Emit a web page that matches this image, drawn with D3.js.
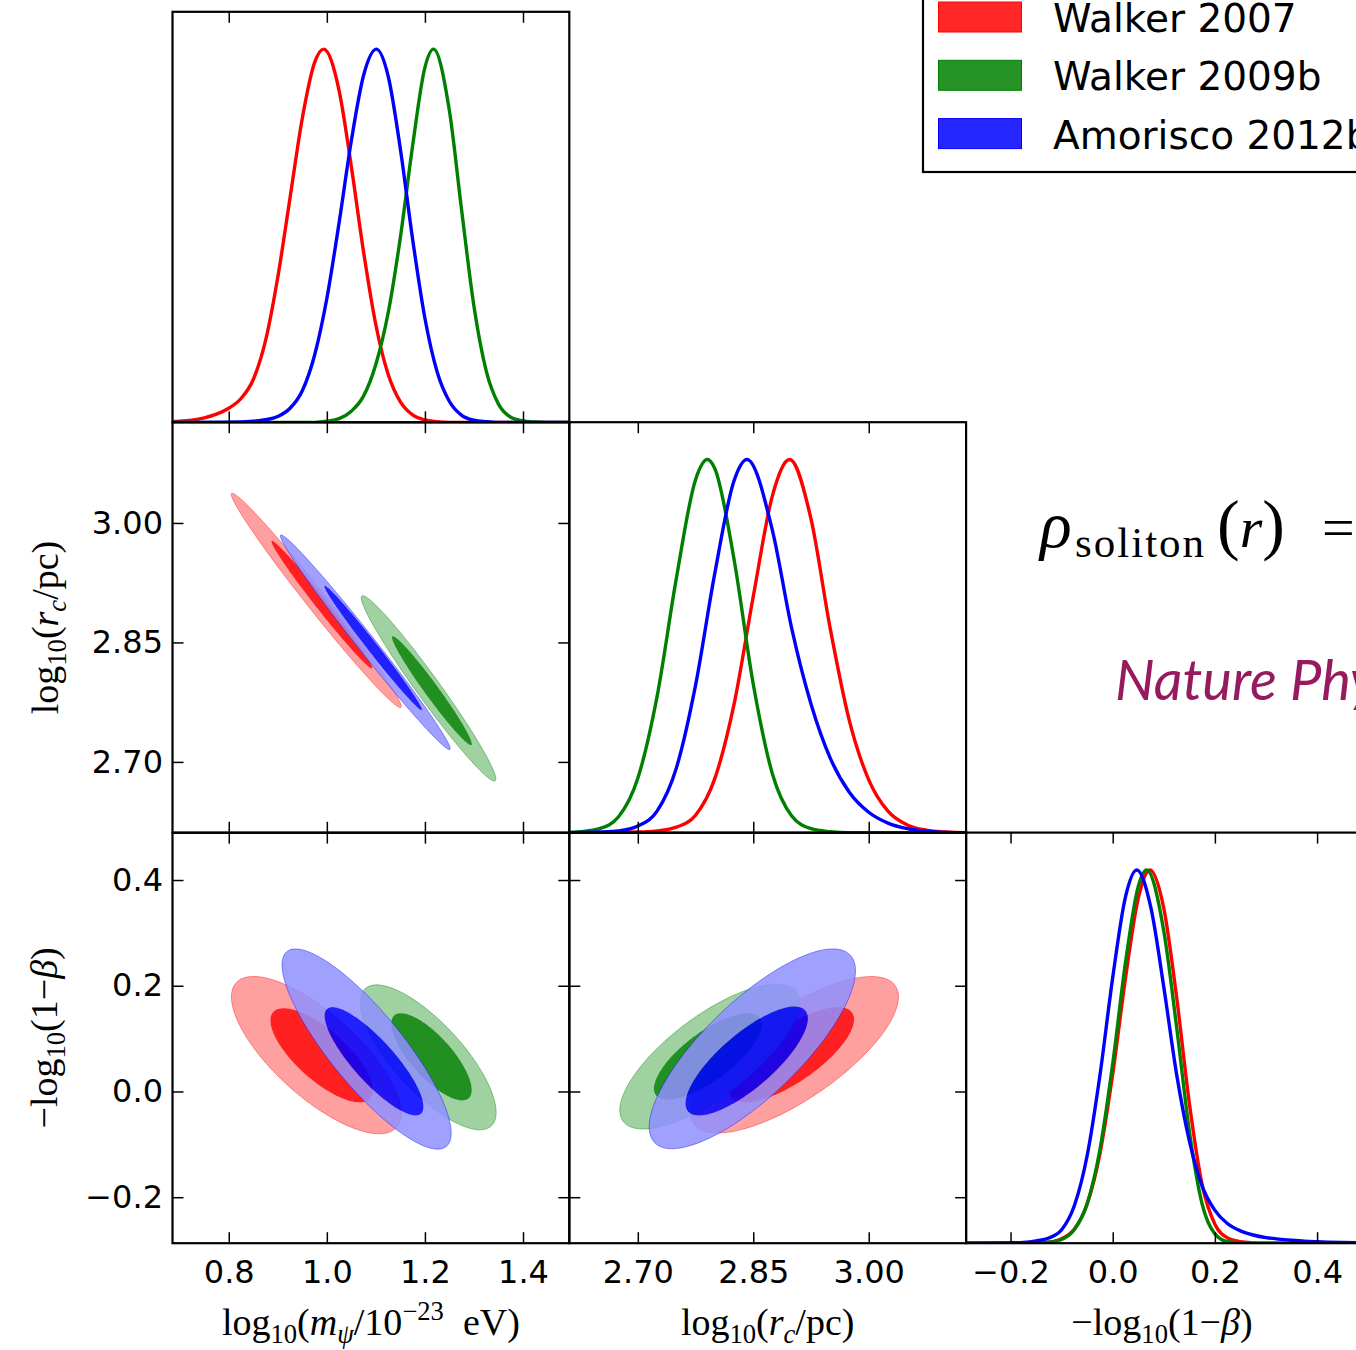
<!DOCTYPE html>
<html><head><meta charset="utf-8">
<script src="https://cdn.jsdelivr.net/npm/d3@7"></script>
<style>body{margin:0;background:#fff;} svg{display:block;}</style>
</head><body>
<svg id="chart" width="1356" height="1350"></svg>
<script>
// ---------------- data ----------------
const seriesNames = ["Walker 2007", "Walker 2009b", "Amorisco 2012b"];
const seriesColors = ["#ff0000", "#008000", "#0000ff"];
const seriesTints = ["#ff8f8f", "#8fc98f", "#8f8fff"];

const mTicks = [0.8, 1.0, 1.2, 1.4];
const rcTicks = [2.70, 2.85, 3.00];
const betaTicks = [-0.2, 0.0, 0.2, 0.4];

const mDomain = [0.6853, 1.4944];
const rcDomain = [2.611, 3.1265];
const betaDomain = [-0.287, 0.4897];

// 1D marginal posteriors, [value, density normalised to peak 1]
const mRed = [[0.68,0.002],[0.70,0.003],[0.725,0.006],[0.75,0.012],[0.775,0.022],[0.80,0.038],[0.825,0.064],[0.85,0.115],[0.875,0.219],[0.90,0.389],[0.925,0.602],[0.95,0.815],[0.975,0.964],[0.9935,1.0],[1.025,0.889],[1.05,0.685],[1.075,0.456],[1.10,0.261],[1.125,0.129],[1.15,0.055],[1.175,0.020],[1.20,0.0064],[1.225,0.002],[1.25,0],[1.50,0]];
const mGreen = [[0.68,0],[0.975,0],[1.0,0.003],[1.025,0.01],[1.05,0.03],[1.075,0.071],[1.10,0.156],[1.125,0.293],[1.15,0.496],[1.175,0.742],[1.20,0.951],[1.2175,1.0],[1.25,0.834],[1.275,0.567],[1.30,0.311],[1.325,0.138],[1.35,0.049],[1.375,0.014],[1.40,0.004],[1.425,0.001],[1.45,0],[1.50,0]];
const mBlue = [[0.68,0],[0.80,0.0005],[0.85,0.003],[0.875,0.007],[0.90,0.016],[0.925,0.038],[0.95,0.085],[0.975,0.180],[1.0,0.332],[1.025,0.535],[1.05,0.755],[1.075,0.930],[1.101,1.0],[1.125,0.928],[1.15,0.732],[1.175,0.490],[1.20,0.279],[1.225,0.135],[1.25,0.056],[1.275,0.019],[1.30,0.006],[1.325,0.002],[1.35,0],[1.50,0]];

const rcRed = [[2.60,0],[2.70,0.002],[2.725,0.005],[2.75,0.015],[2.775,0.047],[2.80,0.145],[2.825,0.344],[2.85,0.633],[2.875,0.904],[2.8973,1.0],[2.925,0.841],[2.95,0.547],[2.975,0.299],[3.0,0.142],[3.025,0.058],[3.05,0.021],[3.075,0.007],[3.10,0.002],[3.13,0]];
const rcGreen = [[2.60,0],[2.625,0.003],[2.65,0.011],[2.675,0.043],[2.70,0.146],[2.725,0.365],[2.75,0.681],[2.775,0.946],[2.7903,1.0],[2.80,0.976],[2.825,0.733],[2.85,0.398],[2.875,0.157],[2.90,0.045],[2.925,0.011],[2.95,0.003],[2.975,0],[3.13,0]];
const rcBlue = [[2.60,0],[2.65,0.002],[2.675,0.005],[2.70,0.018],[2.725,0.058],[2.75,0.173],[2.775,0.395],[2.80,0.695],[2.825,0.943],[2.8418,1.0],[2.875,0.809],[2.90,0.547],[2.925,0.345],[2.95,0.20],[2.975,0.108],[3.0,0.055],[3.025,0.026],[3.05,0.011],[3.075,0.004],[3.10,0.001],[3.13,0]];

const betaRed = [[-0.29,0],[-0.15,0.001],[-0.125,0.003],[-0.10,0.012],[-0.075,0.038],[-0.05,0.105],[-0.025,0.240],[0.0,0.453],[0.025,0.710],[0.05,0.924],[0.073,1.0],[0.10,0.897],[0.125,0.660],[0.15,0.375],[0.175,0.157],[0.20,0.051],[0.225,0.014],[0.25,0.004],[0.275,0.001],[0.30,0],[0.49,0]];
const betaGreen = [[-0.29,0],[-0.15,0.001],[-0.125,0.003],[-0.10,0.010],[-0.075,0.0365],[-0.05,0.106],[-0.025,0.251],[0.0,0.481],[0.025,0.752],[0.05,0.956],[0.0665,1.0],[0.10,0.836],[0.125,0.58],[0.15,0.30],[0.175,0.105],[0.20,0.025],[0.225,0.004],[0.25,0.001],[0.275,0],[0.49,0]];
const betaBlue = [[-0.29,0],[-0.20,0.001],[-0.175,0.002],[-0.15,0.006],[-0.125,0.014],[-0.10,0.036],[-0.075,0.101],[-0.05,0.235],[-0.025,0.450],[0.0,0.712],[0.025,0.928],[0.047,1.0],[0.075,0.897],[0.10,0.686],[0.125,0.453],[0.15,0.274],[0.175,0.153],[0.20,0.088],[0.225,0.052],[0.25,0.033],[0.275,0.022],[0.30,0.015],[0.325,0.011],[0.35,0.008],[0.375,0.0055],[0.40,0.004],[0.45,0.002],[0.49,0.001]];

// 2D credible regions: [series, level (0 = 68%, 1 = 95%), centreX, centreY, halfExtentX, halfExtentY, correlation]
const contMRc = [
  [0,1, 0.9783, 2.9028, 0.1731, 0.1345, -0.989],
  [0,0, 0.9898, 2.8975, 0.1029, 0.0802, -0.989],
  [1,1, 1.2074, 2.7923, 0.1372, 0.1163, -0.977],
  [1,0, 1.2143, 2.7894, 0.0815, 0.0685, -0.977],
  [2,1, 1.0784, 2.8502, 0.1731, 0.1347, -0.991],
  [2,0, 1.0944, 2.8431, 0.0995, 0.0781, -0.991]
];
const contMBeta = [
  [0,1, 0.9786, 0.0688, 0.1731, 0.1488, -0.74],
  [0,0, 0.9894, 0.0684, 0.1045, 0.0892, -0.74],
  [1,1, 1.2067, 0.0646, 0.1385, 0.1371, -0.76],
  [1,0, 1.2134, 0.0656, 0.0821, 0.0826, -0.76],
  [2,1, 1.0811, 0.0803, 0.1725, 0.1894, -0.84],
  [2,0, 1.0963, 0.0571, 0.1008, 0.1025, -0.84]
];
const contRcBeta = [
  [0,1, 2.9036, 0.0694, 0.1350, 0.1480, 0.74],
  [0,0, 2.8997, 0.0694, 0.0813, 0.0902, 0.74],
  [1,1, 2.7933, 0.0660, 0.1167, 0.1370, 0.74],
  [1,0, 2.7909, 0.0662, 0.0700, 0.0819, 0.74],
  [2,1, 2.8488, 0.0807, 0.1340, 0.1890, 0.78],
  [2,0, 2.8414, 0.0577, 0.0794, 0.1030, 0.78]
];

// ---------------- layout ----------------
const svg = d3.select("#chart");
const colX = [172.5, 569.3, 966.1], pw = 396.8;
const rowY = [11.8, 422.2, 832.6], ph = 410.6;
const FONT = "'DejaVu Sans', sans-serif";
const SERIF = "'Liberation Serif', 'Times New Roman', serif";

const xM = d3.scaleLinear(mDomain, [colX[0], colX[0]+pw]);
const xRc = d3.scaleLinear(rcDomain, [colX[1], colX[1]+pw]);
const xBeta = d3.scaleLinear(betaDomain, [colX[2], colX[2]+pw]);
const yRc = d3.scaleLinear(rcDomain, [rowY[1]+ph, rowY[1]]);
const yBeta = d3.scaleLinear(betaDomain, [rowY[2]+ph, rowY[2]]);
const yD = r => d3.scaleLinear([0, 1.1], [rowY[r]+ph, rowY[r]]);

const defs = svg.append("defs");
let clipId = 0;
function panel(c, r) {
  const id = "clip" + (clipId++);
  defs.append("clipPath").attr("id", id).append("rect")
    .attr("x", colX[c]).attr("y", rowY[r]).attr("width", pw).attr("height", ph);
  return svg.append("g").attr("clip-path", `url(#${id})`);
}

function styleAxis(g, labels) {
  g.select(".domain").remove();
  g.selectAll(".tick line").attr("stroke", "#000").attr("stroke-width", 1.5);
  g.selectAll(".tick text").attr("font-family", FONT).attr("font-size", 32).attr("fill", "#000");
  if (!labels) g.selectAll(".tick text").remove();
}

function axes(c, r, xs, xt, xfmt, ys, yt, yfmt, xLab, yLab) {
  const L = colX[c], R = colX[c]+pw, T = rowY[r], B = rowY[r]+ph;
  const gb = svg.append("g").attr("transform", `translate(0,${B})`)
    .call(d3.axisBottom(xs).tickValues(xt).tickSize(-11).tickSizeOuter(0).tickPadding(17).tickFormat(d3.format(xfmt)));
  styleAxis(gb, xLab);
  const gt = svg.append("g").attr("transform", `translate(0,${T})`)
    .call(d3.axisTop(xs).tickValues(xt).tickSize(-11).tickSizeOuter(0));
  styleAxis(gt, false);
  if (ys) {
    const gl = svg.append("g").attr("transform", `translate(${L},0)`)
      .call(d3.axisLeft(ys).tickValues(yt).tickSize(-11).tickSizeOuter(0).tickPadding(9.5).tickFormat(d3.format(yfmt)));
    styleAxis(gl, yLab);
    const gr = svg.append("g").attr("transform", `translate(${R},0)`)
      .call(d3.axisRight(ys).tickValues(yt).tickSize(-11).tickSizeOuter(0));
    styleAxis(gr, false);
  }
  svg.append("rect").attr("x", L).attr("y", T).attr("width", pw).attr("height", ph)
    .attr("fill", "none").attr("stroke", "#000").attr("stroke-width", 2.2);
}

// ---------------- 1D panels ----------------
function drawMarginal(c, r, xs, curves) {
  const g = panel(c, r);
  const ys = yD(r);
  const line = d3.line().x(d => xs(d[0])).y(d => ys(d[1])).curve(d3.curveMonotoneX);
  curves.forEach((cv, i) => {
    g.append("path").attr("d", line(cv)).attr("fill", "none")
      .attr("stroke", seriesColors[i]).attr("stroke-width", 3.4).attr("stroke-linejoin", "round");
  });
}
drawMarginal(0, 0, xM, [mRed, mGreen, mBlue]);
drawMarginal(1, 1, xRc, [rcRed, rcGreen, rcBlue]);
drawMarginal(2, 2, xBeta, [betaRed, betaGreen, betaBlue]);

// ---------------- 2D panels ----------------
function ellipsePath(cn, xs, ys) {
  const cx = cn[2], cy = cn[3], hx = cn[4], hy = cn[5], rho = cn[6];
  const s = Math.sqrt(1 - rho*rho);
  const pts = d3.range(0, 360, 2).map(a => {
    const t = a * Math.PI / 180;
    return [xs(cx + hx*Math.cos(t)), ys(cy + hy*(rho*Math.cos(t) + s*Math.sin(t)))];
  });
  return d3.line().curve(d3.curveLinearClosed)(pts);
}
function drawJoint(c, r, xs, ys, conts) {
  const g = panel(c, r);
  [0, 1, 2].forEach(si => {
    const outer = conts.find(d => d[0] === si && d[1] === 1);
    const inner = conts.find(d => d[0] === si && d[1] === 0);
    const po = ellipsePath(outer, xs, ys), pi = ellipsePath(inner, xs, ys);
    g.append("path").attr("d", po + pi).attr("fill-rule", "evenodd")
      .attr("fill", seriesTints[si]).attr("fill-opacity", 0.85);
    g.append("path").attr("d", po).attr("fill", "none")
      .attr("stroke", seriesColors[si]).attr("stroke-opacity", 0.4).attr("stroke-width", 1);
    g.append("path").attr("d", pi).attr("fill", seriesColors[si]).attr("fill-opacity", 0.87);
  });
}
drawJoint(0, 1, xM, yRc, contMRc);
drawJoint(0, 2, xM, yBeta, contMBeta);
drawJoint(1, 2, xRc, yBeta, contRcBeta);

// ---------------- axes & frames ----------------
axes(0, 0, xM, mTicks, ".1f", null, null, null, false, false);
axes(0, 1, xM, mTicks, ".1f", yRc, rcTicks, ".2f", false, true);
axes(1, 1, xRc, rcTicks, ".2f", null, null, null, false, false);
axes(0, 2, xM, mTicks, ".1f", yBeta, betaTicks, ".1f", true, true);
axes(1, 2, xRc, rcTicks, ".2f", yBeta, betaTicks, ".1f", true, false);
axes(2, 2, xBeta, betaTicks, ".1f", null, null, null, true, false);

// ---------------- math labels ----------------
function mathText(sel, parts, size) {
  const t = sel.append("text").attr("font-family", SERIF).attr("font-size", size)
    .attr("fill", "#000").attr("text-anchor", "middle");
  let shift = 0;
  parts.forEach(p => {
    const target = p.sub ? size*0.2 : p.sup ? -size*0.4 : 0;
    const ts = t.append("tspan").text(p.t).attr("dy", target - shift);
    shift = target;
    if (p.sub || p.sup) ts.attr("font-size", size*0.7);
    if (p.it) ts.attr("font-style", "italic");
  });
  return t;
}
const lblM = [{t:"log"},{t:"10",sub:1},{t:"("},{t:"m",it:1},{t:"ψ",sub:1,it:1},{t:"/10"},{t:"−23",sup:1},{t:"\u00a0\u00a0eV)"}];
const lblRc = [{t:"log"},{t:"10",sub:1},{t:"("},{t:"r",it:1},{t:"c",sub:1,it:1},{t:"/pc)"}];
const lblBeta = [{t:"−log"},{t:"10",sub:1},{t:"(1−"},{t:"β",it:1},{t:")"}];

mathText(svg.append("g").attr("transform", `translate(${colX[0]+pw/2},1335)`), lblM, 38);
mathText(svg.append("g").attr("transform", `translate(${colX[1]+pw/2},1335)`), lblRc, 38);
mathText(svg.append("g").attr("transform", `translate(1162,1335)`), lblBeta, 38);
mathText(svg.append("g").attr("transform", `translate(58,${rowY[1]+ph/2}) rotate(-90)`), lblRc, 38);
mathText(svg.append("g").attr("transform", `translate(57,${rowY[2]+ph/2}) rotate(-90)`), lblBeta, 38);

// ---------------- legend ----------------
const leg = svg.append("g");
leg.append("rect").attr("x", 923).attr("y", -5).attr("width", 460).attr("height", 177)
  .attr("fill", "#fff").attr("stroke", "#000").attr("stroke-width", 2.2);
seriesNames.forEach((n, i) => {
  const yc = 17 + i*58.3;
  leg.append("rect").attr("x", 938.5).attr("y", yc-15).attr("width", 83).attr("height", 30)
    .attr("fill", seriesColors[i]).attr("fill-opacity", 0.85)
    .attr("stroke", seriesColors[i]).attr("stroke-width", 1);
  leg.append("text").attr("x", 1053).attr("y", yc+15).attr("font-family", FONT)
    .attr("font-size", 39).attr("fill", "#000").text(n);
});

// ---------------- formula & journal ----------------
const f = svg.append("text").attr("font-family", SERIF).attr("font-size", 58).attr("fill", "#000").attr("y", 547);
f.append("tspan").attr("x", 1040).attr("font-style", "italic").attr("font-size", 66).text("ρ");
f.append("tspan").attr("x", 1075).attr("dy", 10).attr("font-size", 43).attr("letter-spacing", 2).text("soliton");
f.append("tspan").attr("x", 1217).attr("dy", -10).attr("font-size", 68).text("(");
f.append("tspan").attr("font-style", "italic").text("r");
f.append("tspan").attr("font-size", 68).text(")");
f.append("tspan").attr("x", 1322).text("=");

svg.append("text").attr("x", 1115).attr("y", 700).attr("font-family", "Lato, 'Open Sans', sans-serif")
  .attr("font-style", "italic").attr("font-size", 56).attr("fill", "#961a5e").text("Nature Physics");
</script>
</body></html>
